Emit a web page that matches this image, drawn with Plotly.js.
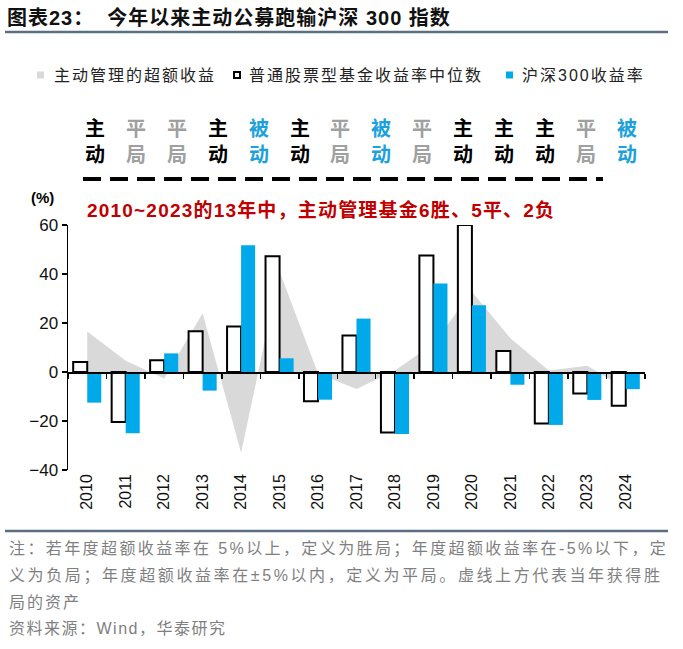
<!DOCTYPE html>
<html><head><meta charset="utf-8">
<script src="https://cdn.plot.ly/plotly-3.0.1.min.js"></script>
<style>body{margin:0;background:#fff}#chart{width:683px;height:649px}</style>
</head><body><div id="chart"></div>
<script>
const years = ['2010','2011','2012','2013','2014','2015','2016','2017','2018','2019','2020','2021','2022','2023','2024'];
const excessReturn = [16.5, 4.6, -2.7, 24.0, -33.0, 41.0, -0.6, -6.9, 0.6, 11.5, 32.8, 13.8, 0.6, 2.6, -6.8];
const fundMedian = [4.1, -20.4, 4.8, 16.6, 18.6, 47.2, -11.9, 14.9, -24.7, 47.6, 60.0, 8.6, -21.0, -8.8, -13.8];
const csi300 = [-12.5, -25.0, 7.6, -7.6, 51.7, 5.6, -11.3, 21.8, -25.3, 36.1, 27.2, -5.2, -21.6, -11.4, -7.0];
const outcomeTop = ['主','平','平','主','被','主','平','被','平','主','主','主','平','被'];
const outcomeBottom = ['动','局','局','动','动','动','局','动','局','动','动','动','局','动'];
const seriesNames = ['主动管理的超额收益','普通股票型基金收益率中位数','沪深300收益率'];
const titleText = '图表23：  今年以来主动公募跑输沪深 300 指数';
const noteText = '2010~2023的13年中，主动管理基金6胜、5平、2负';
const footLines = ['注：若年度超额收益率在 5%以上，定义为胜局；年度超额收益率在-5%以下，定',
  '义为负局；年度超额收益率在±5%以内，定义为平局。虚线上方代表当年获得胜',
  '局的资产','资料来源：Wind，华泰研究'];

const BLUE = '#00A9EA', GRAY = '#D9D9D9';
const FONT = 'Liberation Sans, Arial, Noto Sans CJK SC, sans-serif';
const L = 68, R = 645, T = 225, B = 470;
const fx = x => (x - L) / (R - L);
const fy = y => (B - y) / (B - T);

const traces = [
  {type:'scatter', mode:'lines', x: years, y: excessReturn, fill:'tozeroy', fillcolor: GRAY,
   line:{width:0, color: GRAY}, xaxis:'x', yaxis:'y', showlegend:false, hoverinfo:'skip'},
  {type:'bar', x: years, y: fundMedian, name: seriesNames[1], xaxis:'x2', yaxis:'y',
   marker:{color:'#ffffff', line:{color:'#000', width:2}}, showlegend:false},
  {type:'bar', x: years, y: csi300, name: seriesNames[2], xaxis:'x2', yaxis:'y',
   marker:{color: BLUE, line:{width:0}}, showlegend:false}
];

const annotations = [];
const shapes = [];
const colorFor = t => t === '主' ? '#000000' : (t === '平' ? '#A0A0A0' : '#1DA1DC');
outcomeTop.forEach((t, i) => {
  const xp = 95 + 40.9 * i;
  annotations.push({xref:'paper', yref:'paper', x: fx(xp), y: fy(129), text: '<b>' + t + '</b>',
    showarrow:false, xanchor:'center', yanchor:'middle', font:{family: FONT, size: 20, color: colorFor(t)}});
  annotations.push({xref:'paper', yref:'paper', x: fx(xp), y: fy(155), text: '<b>' + outcomeBottom[i] + '</b>',
    showarrow:false, xanchor:'center', yanchor:'middle', font:{family: FONT, size: 20, color: colorFor(t)}});
});
shapes.push({type:'line', xref:'paper', yref:'paper', x0: fx(83), x1: fx(603), y0: fy(179), y1: fy(179),
  line:{color:'#000', width:4, dash:'18px,9px'}});
annotations.push({xref:'paper', yref:'paper', x: fx(85), y: fy(210), xanchor:'left', yanchor:'middle', showarrow:false,
  text:'<b><span style="letter-spacing:1.2px">' + noteText + '</span></b>', font:{family: FONT, size: 19, color:'#C00000'}});
annotations.push({xref:'paper', yref:'paper', x: fx(42), y: fy(197), xanchor:'center', yanchor:'middle', showarrow:false,
  text:'<b>(%)</b>', font:{family: FONT, size: 15, color:'#000'}});
const legY = fy(75);
shapes.push({type:'rect', xref:'paper', yref:'paper', x0: fx(37), x1: fx(44), y0: fy(78.5), y1: fy(71.5), fillcolor: GRAY, line:{width:0}});
shapes.push({type:'rect', xref:'paper', yref:'paper', x0: fx(234), x1: fx(240), y0: fy(78), y1: fy(72), fillcolor:'#fff', line:{width:2, color:'#000'}});
shapes.push({type:'rect', xref:'paper', yref:'paper', x0: fx(506), x1: fx(513), y0: fy(78.5), y1: fy(71.5), fillcolor: BLUE, line:{width:0}});
[[52, seriesNames[0]], [247, seriesNames[1]], [520, seriesNames[2]]].forEach(([xp, t]) => {
  annotations.push({xref:'paper', yref:'paper', x: fx(xp), y: legY, xanchor:'left', yanchor:'middle', showarrow:false,
    text:'<span style="letter-spacing:2px">' + t + '</span>', font:{family: FONT, size: 16, color:'#222'}});
});
shapes.push({type:'line', xref:'paper', yref:'paper', x0: fx(5), x1: fx(668), y0: fy(32), y1: fy(32), line:{color:'#5B6F84', width:2.5}});
shapes.push({type:'line', xref:'paper', yref:'paper', x0: fx(5), x1: fx(668), y0: fy(531), y1: fy(531), line:{color:'#5B6F84', width:2.5}});
const footSpacing = [2.4, 2.6, 2, 1.5];
[549, 576, 602, 628].forEach((yp, i) => {
  annotations.push({xref:'paper', yref:'paper', x: fx(7), y: fy(yp), xanchor:'left', yanchor:'middle', showarrow:false,
    text:'<span style="letter-spacing:' + footSpacing[i] + 'px">' + footLines[i] + '</span>', font:{family: FONT, size: 16, color:'#7F7F7F'}});
});

const layout = {
  width: 683, height: 649,
  margin:{l: L, r: 683 - R, t: T, b: 649 - B, pad: 0},
  paper_bgcolor:'#fff', plot_bgcolor:'rgba(0,0,0,0)',
  font:{family: FONT, color:'#1a1a1a'},
  title:{text:'<b><span style="letter-spacing:1px">' + titleText + '</span></b>', x: 7/683, xanchor:'left', xref:'container',
    yref:'container', y: 1 - 18/649, yanchor:'middle', font:{family: FONT, size: 20, color:'#111'}},
  showlegend:false,
  barmode:'group', bargap:0.27, bargroupgap:0,
  xaxis:{type:'category', range:[-0.5, 14.5], showline:false, ticks:'', showgrid:false, zeroline:false,
    tickangle:-90, tickfont:{family: FONT, size:16, color:'#111'}, fixedrange:true},
  xaxis2:{type:'category', overlaying:'x', matches:'x', anchor:'free', position:0.4, side:'bottom',
    showline:true, linecolor:'#000', linewidth:1.5, ticks:'outside', tickson:'boundaries', ticklen:5,
    tickcolor:'#000', tickwidth:1.5, showticklabels:false, showgrid:false, zeroline:false},
  yaxis:{range:[-40, 60], dtick:20, tick0:0, showline:true, linecolor:'#000', linewidth:1.5, ticks:'outside',
    ticklen:5, tickwidth:1.5, tickcolor:'#000', showgrid:false, zeroline:false,
    tickfont:{family: FONT, size:17, color:'#111'}},
  annotations, shapes
};
Plotly.newPlot('chart', traces, layout, {displayModeBar:false, staticPlot:true});
</script></body></html>
